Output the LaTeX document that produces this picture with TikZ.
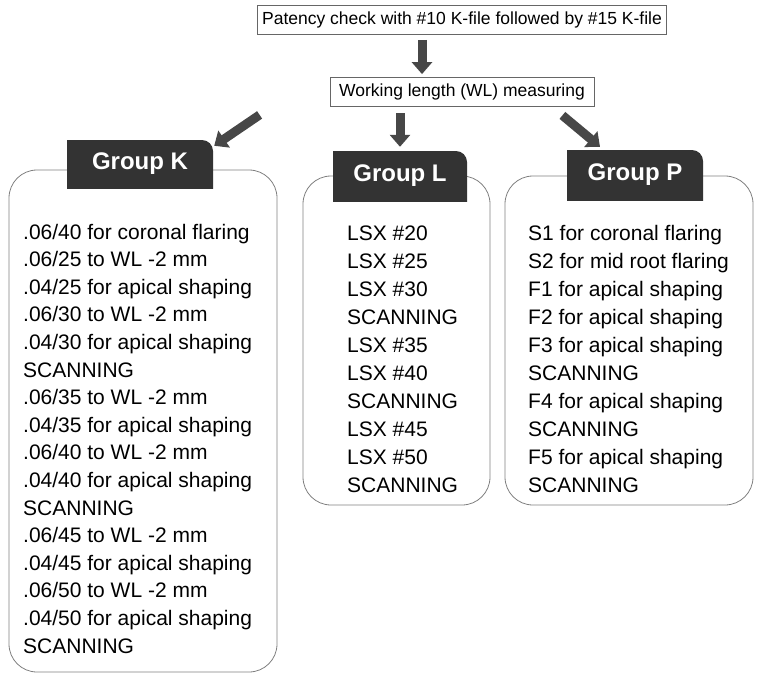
\documentclass[tikz,border=0pt]{standalone}
\usepackage{fontspec}
\setmainfont{Liberation Sans}
\usetikzlibrary{arrows.meta}
\tikzset{
  topbox/.style={draw=black!60, line width=0.8pt, inner sep=0pt, minimum height=29pt,
    font=\fontsize{17.5}{20}\selectfont},
  colbox/.style={draw=black!50, line width=0.8pt, rounded corners=28pt, inner sep=0pt},
  tab/.style={inner sep=0pt, text=white, font=\fontsize{24}{28}\selectfont\bfseries,
    path picture={\fill[black!80, rounded corners=11pt]
      ([xshift=-30pt,yshift=-30pt]path picture bounding box.south west) rectangle
      (path picture bounding box.north east);}},
  fatarrow/.style={line width=9pt, draw=black!72, -{Triangle[width=20pt,length=12pt]}},
  itemtext/.style={anchor=base west, inner sep=0pt, font=\fontsize{21}{24}\selectfont}
}
\begin{document}
\begin{tikzpicture}[x=1pt,y=-1pt]
\useasboundingbox (0,0) rectangle (757,677);

% header boxes
\node[topbox, minimum width=409pt] (top) at (462,20) {Patency check with \#10 K-file followed by \#15 K-file};
\node[topbox, minimum width=264pt] (wl) at (462,92) {Working length (WL) measuring};

% column boxes
\node[colbox, minimum width=268pt, minimum height=502pt] (bk) at (143,421) {};
\node[colbox, minimum width=187pt, minimum height=329pt] (bl) at (396.5,340.5) {};
\node[colbox, minimum width=248pt, minimum height=329pt] (bp) at (629,340.5) {};

% tabs
\node[tab, minimum width=146pt, minimum height=48pt] (gk) at (140,164) {Group K};
\node[tab, minimum width=134pt, minimum height=50pt] (gl) at (400,176) {Group L};
\node[tab, minimum width=136pt, minimum height=50pt] (gp) at (635,175) {Group P};

% arrows
\draw[fatarrow] ([xshift=-40pt,yshift=-5pt]top.south) -- ([xshift=-40pt,yshift=3pt]wl.north);
\draw[fatarrow] ([xshift=-70pt,yshift=-8pt]wl.south west) -- ([xshift=1pt,yshift=-6pt]gk.north east);
\draw[fatarrow] ([xshift=-62pt,yshift=-6.5pt]wl.south) -- ([yshift=4pt]gl.north);
\draw[fatarrow] ([xshift=-32pt,yshift=-8.5pt]wl.south east) -- ([xshift=-35pt,yshift=3pt]gp.north);

% Group K items
\foreach \t [count=\i] in {.06/40 for coronal flaring, .06/25 to WL -2 mm, .04/25 for apical shaping,
  .06/30 to WL -2 mm, .04/30 for apical shaping, SCANNING, .06/35 to WL -2 mm,
  .04/35 for apical shaping, .06/40 to WL -2 mm, .04/40 for apical shaping, SCANNING,
  .06/45 to WL -2 mm, .04/45 for apical shaping, .06/50 to WL -2 mm,
  .04/50 for apical shaping, SCANNING}
  \node[itemtext] (k\i) at (23, {239+(\i-1)*27.6}) {\t};

% Group L items
\foreach \t [count=\i] in {LSX \#20, LSX \#25, LSX \#30, SCANNING, LSX \#35, LSX \#40,
  SCANNING, LSX \#45, LSX \#50, SCANNING}
  \node[itemtext] (l\i) at (347, {240+(\i-1)*28}) {\t};

% Group P items
\foreach \t [count=\i] in {S1 for coronal flaring, S2 for mid root flaring, F1 for apical shaping,
  F2 for apical shaping, F3 for apical shaping, SCANNING, F4 for apical shaping, SCANNING,
  F5 for apical shaping, SCANNING}
  \node[itemtext] (p\i) at (528, {240+(\i-1)*28}) {\t};
\end{tikzpicture}
\end{document}
